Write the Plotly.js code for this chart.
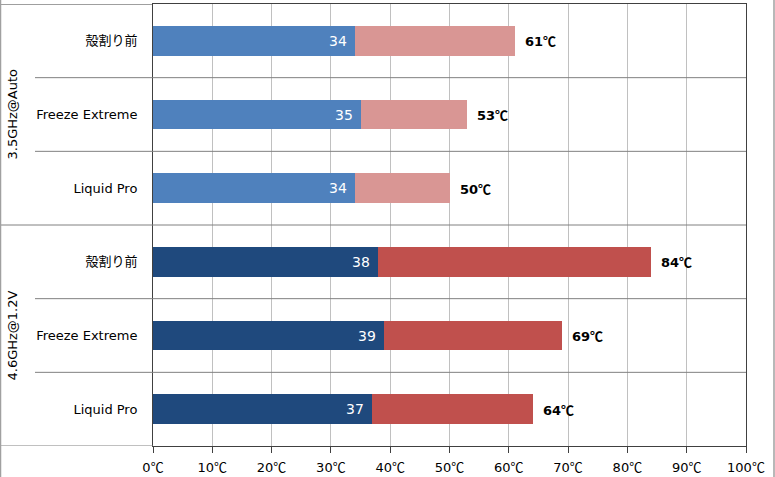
<!DOCTYPE html>
<html>
<head>
<meta charset="utf-8">
<script src="https://cdn.plot.ly/plotly-3.0.1.min.js"></script>
<style>html,body{margin:0;padding:0;background:#fff;}#chart{width:775px;height:477px;}</style>
</head>
<body>
<div id="chart"></div>
<script>
const categories = ['殻割り前', 'Freeze Extreme', 'Liquid Pro', '殻割り前', 'Freeze Extreme', 'Liquid Pro'];
const groups = ['3.5GHz@Auto', '4.6GHz@1.2V'];
const idleTemps = [34, 35, 34, 38, 39, 37];
const loadTemps = [61, 53, 50, 84, 69, 64];
const idleColors = ['#4F81BD', '#4F81BD', '#4F81BD', '#1F497D', '#1F497D', '#1F497D'];
const loadColors = ['#D99694', '#D99694', '#D99694', '#C0504D', '#C0504D', '#C0504D'];
const xTickVals = [0, 10, 20, 30, 40, 50, 60, 70, 80, 90, 100];

const yPos = categories.map((c, i) => i);
const diffs = loadTemps.map((v, i) => v - idleTemps[i]);
const FONT = 'DejaVu Sans, Verdana, sans-serif';
const CJK = 'Noto Sans CJK JP';
const degC = '<span style="font-family:' + CJK + '">℃</span>';
const hasCJK = s => /[\u3000-\u9fff]/.test(s);
const catText = categories.map(c => hasCJK(c) ? '<span style="font-family:' + CJK + ';font-size:13px">' + c + '</span>' : c);

const traces = [
  {type: 'bar', orientation: 'h', y: yPos, x: idleTemps, marker: {color: idleColors, line: {width: 0}}, hoverinfo: 'x'},
  {type: 'bar', orientation: 'h', y: yPos, x: diffs, marker: {color: loadColors, line: {width: 0}}, hoverinfo: 'x'}
];

const annotations = [];
yPos.forEach((y, i) => {
  annotations.push({x: idleTemps[i], y: y, xref: 'x', yref: 'y', text: String(idleTemps[i]), showarrow: false,
    xanchor: 'right', xshift: -6, font: {family: FONT, size: 14, color: '#ffffff'}});
  annotations.push({x: loadTemps[i], y: y, xref: 'x', yref: 'y', text: '<b>' + loadTemps[i] + degC + '</b>', showarrow: false,
    xanchor: 'left', xshift: 8, font: {family: FONT, size: 13, color: '#000000'}});
});
groups.forEach((g, gi) => {
  annotations.push({x: -141 / 593, y: 3 * gi + 1, xref: 'paper', yref: 'y', text: g, showarrow: false, textangle: -90,
    xanchor: 'center', yanchor: 'middle', font: {family: FONT, size: 13, color: '#000000'}});
});

const LEFT = -153 / 593;
const shapes = [];
[0.5, 1.5, 3.5, 4.5].forEach(v => shapes.push({type: 'line', xref: 'paper', yref: 'y', x0: -118 / 593, x1: 1, y0: v, y1: v, line: {color: '#808080', width: 1}}));
shapes.push({type: 'line', xref: 'paper', yref: 'y', x0: LEFT, x1: 1, y0: 2.5, y1: 2.5, line: {color: '#808080', width: 1}});
shapes.push({type: 'line', xref: 'paper', yref: 'y', x0: LEFT, x1: 0, y0: -0.5, y1: -0.5, line: {color: '#404040', width: 1}});
shapes.push({type: 'line', xref: 'paper', yref: 'y', x0: LEFT, x1: 0, y0: 5.5, y1: 5.5, line: {color: '#808080', width: 1}});
shapes.push({type: 'line', xref: 'paper', yref: 'paper', x0: LEFT + 0.5 / 593, x1: LEFT + 0.5 / 593, y0: -31 / 442, y1: 1.02, line: {color: '#a0a0a0', width: 1.5}});
shapes.push({type: 'line', xref: 'paper', yref: 'paper', x0: 1 + 28 / 593, x1: 1 + 28 / 593, y0: -31 / 442, y1: 1.02, line: {color: '#a0a0a0', width: 1.5}});

const layout = {
  width: 775, height: 477,
  margin: {l: 153, r: 29, t: 4, b: 31, pad: 0},
  paper_bgcolor: '#ffffff', plot_bgcolor: '#ffffff',
  barmode: 'stack', bargap: 0.6,
  showlegend: false,
  font: {family: FONT, size: 13, color: '#000000'},
  xaxis: {range: [0, 100], tickvals: xTickVals, ticktext: xTickVals.map(v => v + degC),
    showgrid: true, gridcolor: '#c0c0c0', gridwidth: 1, zeroline: false,
    showline: true, linecolor: '#404040', linewidth: 1, mirror: true,
    ticks: 'outside', ticklen: 6, tickcolor: '#404040', ticklabelstandoff: 3,
    tickfont: {family: FONT, size: 13, color: '#000'}, fixedrange: true},
  yaxis: {range: [5.5, -0.5], tickvals: yPos, ticktext: catText, showgrid: false, zeroline: false,
    showline: true, linecolor: '#404040', linewidth: 1, mirror: true, ticks: '', ticklabelstandoff: 12,
    tickfont: {family: FONT, size: 13, color: '#000'}, fixedrange: true},
  annotations: annotations,
  shapes: shapes
};

Plotly.newPlot('chart', traces, layout, {displayModeBar: false, staticPlot: true});
</script>
</body>
</html>
